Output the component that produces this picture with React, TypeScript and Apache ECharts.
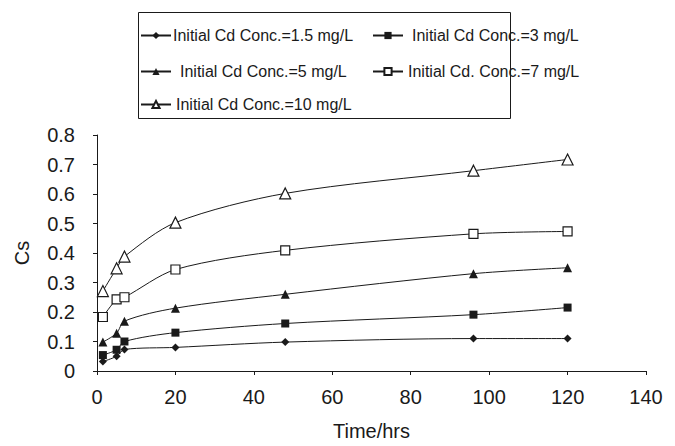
import React, { useEffect, useRef } from "react";
import * as echarts from "echarts";

const times = [1.5, 5, 7, 20, 48, 96, 120];
const conc15 = [0.032, 0.05, 0.073, 0.08, 0.098, 0.11, 0.11];
const conc3 = [0.054, 0.072, 0.1, 0.13, 0.161, 0.191, 0.215];
const conc5 = [0.098, 0.128, 0.169, 0.213, 0.26, 0.33, 0.35];
const conc7 = [0.183, 0.243, 0.25, 0.344, 0.409, 0.465, 0.473];
const conc10 = [0.271, 0.348, 0.388, 0.503, 0.602, 0.679, 0.717];

const seriesNames = [
  "Initial Cd Conc.=1.5 mg/L",
  "Initial Cd Conc.=3 mg/L",
  "Initial Cd Conc.=5 mg/L",
  "Initial Cd. Conc.=7 mg/L",
  "Initial Cd Conc.=10 mg/L",
];

const FONT = "'Liberation Sans', Arial, sans-serif";
const INK = "#1a1a1a";

export default function App() {
  const ref = useRef<HTMLDivElement>(null);
  useEffect(() => {
    if (!ref.current) return;
    const chart = echarts.init(ref.current, undefined, { renderer: "svg" });
    const values = [conc15, conc3, conc5, conc7, conc10];
    const symbols = ["diamond", "rect", "triangle", "rect", "triangle"];
    const sizes = [8, 8, 9, 9, 11];
    const filled = [true, true, true, false, false];
    const series = values.map((vals, i) => ({
      name: seriesNames[i],
      type: "line",
      data: times.map((t, j) => [t, vals[j]]),
      smooth: 0.3,
      symbol: symbols[i],
      symbolSize: sizes[i],
      showAllSymbol: true,
      lineStyle: { color: INK, width: 1 },
      itemStyle: {
        color: filled[i] ? INK : "#ffffff",
        borderColor: INK,
        borderWidth: filled[i] ? 0 : 1.2,
      },
    }));

    const legendPos = [
      { left: 140, top: 32, pad: 2 },
      { left: 372, top: 32, pad: 9 },
      { left: 140, top: 68, pad: 9 },
      { left: 372, top: 68, pad: 5 },
      { left: 140, top: 101, pad: 5 },
    ];
    const legends = legendPos.map((p, i) => ({
      show: true,
      data: [seriesNames[i]],
      left: p.left,
      top: p.top - 4.5,
      padding: 0,
      itemWidth: 30,
      itemHeight: 9,
      itemGap: 0,
      textStyle: {
        fontFamily: FONT,
        fontSize: 16,
        color: INK,
        padding: [0, 0, 0, p.pad - 5],
      },
    }));

    chart.setOption({
      animation: false,
      backgroundColor: "#ffffff",
      legend: legends,
      graphic: [
        {
          type: "rect",
          shape: { x: 138.5, y: 12.5, width: 372, height: 106 },
          style: { fill: "none", stroke: INK, lineWidth: 1 },
          z: 100,
        },
      ],
      grid: { left: 97, right: 29, top: 135, bottom: 68 },
      xAxis: {
        type: "value",
        min: 0,
        max: 140,
        interval: 20,
        name: "Time/hrs",
        nameLocation: "middle",
        nameGap: 50,
        nameTextStyle: { fontFamily: FONT, fontSize: 20, color: INK },
        axisLine: { show: true, lineStyle: { color: INK, width: 1 } },
        axisTick: { show: true, length: 4, lineStyle: { color: INK } },
        axisLabel: { fontFamily: FONT, fontSize: 20, color: INK, margin: 16 },
        splitLine: { show: false },
      },
      yAxis: {
        type: "value",
        min: 0,
        max: 0.8,
        interval: 0.1,
        name: "Cs",
        nameLocation: "middle",
        nameGap: 65,
        nameRotate: 90,
        nameTextStyle: { fontFamily: FONT, fontSize: 20, color: INK },
        axisLine: { show: true, lineStyle: { color: INK, width: 1 } },
        axisTick: { show: true, length: 4, lineStyle: { color: INK } },
        axisLabel: { fontFamily: FONT, fontSize: 20, color: INK, margin: 22 },
        splitLine: { show: false },
      },
      series,
    });
    return () => chart.dispose();
  }, []);
  return (
    <div
      ref={ref}
      style={{ position: "fixed", left: 0, top: 0, width: 675, height: 446 }}
    />
  );
}
